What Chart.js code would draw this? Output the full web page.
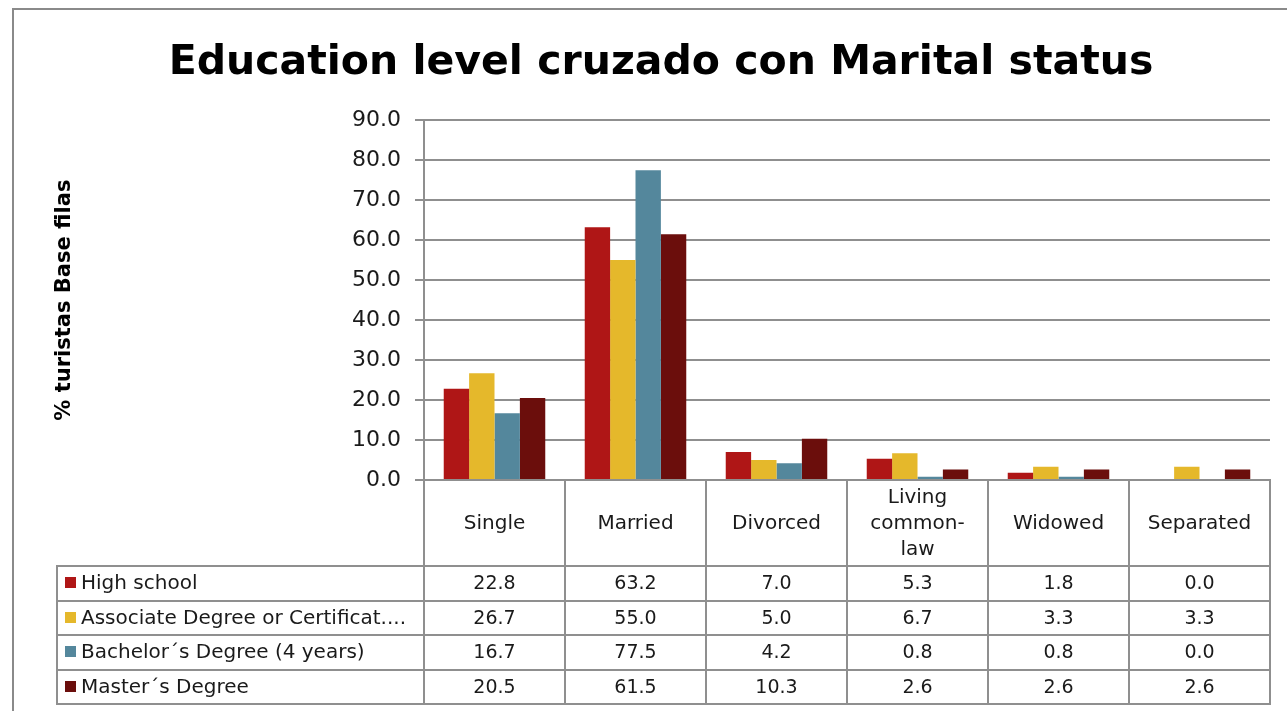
<!DOCTYPE html>
<html>
<head>
<meta charset="utf-8">
<script src="https://cdn.jsdelivr.net/npm/chart.js@4/dist/chart.umd.min.js"></script>
<style>
  html, body { margin: 0; padding: 0; background: #fff; }
  #wrap { position: relative; width: 1287px; height: 711px; }
</style>
</head>
<body>
<div id="wrap"><canvas id="c" width="1287" height="711"></canvas></div>
<script>
// ---- data ----
const categories = ["Single", "Married", "Divorced", ["Living", "common-", "law"], "Widowed", "Separated"];
const seriesNames = ["High school", "Associate Degree or Certificat....", "Bachelor\u00b4s Degree (4 years)", "Master\u00b4s Degree"];
const highSchool = [22.8, 63.2, 7.0, 5.3, 1.8, 0.0];
const associate = [26.7, 55.0, 5.0, 6.7, 3.3, 3.3];
const bachelor = [16.7, 77.5, 4.2, 0.8, 0.8, 0.0];
const master = [20.5, 61.5, 10.3, 2.6, 2.6, 2.6];
const yTicks = [0, 10, 20, 30, 40, 50, 60, 70, 80, 90];
const seriesColors = ["#AF1616", "#E5B82B", "#54879C", "#6B0E0C"];
const titleText = "Education level cruzado con Marital status";
const yTitle = "% turistas Base filas";

const FONT = "'DejaVu Sans', 'Liberation Sans', sans-serif";
const GRID = "#8f8f8f";
const TEXT = "#1a1a1a";

const seriesValues = [highSchool, associate, bachelor, master];

const tablePlugin = {
  id: 'dataTable',
  beforeDraw(chart) {
    const ctx = chart.ctx;
    ctx.save();
    ctx.strokeStyle = "#8a8a8a";
    ctx.lineWidth = 2;
    ctx.strokeRect(13, 9, 1400, 800);
    ctx.restore();
  },
  afterDraw(chart) {
    const ctx = chart.ctx;
    const xs = chart.scales.x;
    const area = chart.chartArea;
    const n = categories.length;
    const catW = (xs.right - xs.left) / n;
    const headerTop = area.bottom;
    const headerBottom = 566;
    const rowH = 34.5;
    const tableLeft = 57;
    const tableRight = xs.right;
    const tableBottom = headerBottom + rowH * seriesNames.length;
    ctx.save();
    ctx.strokeStyle = GRID;
    ctx.lineWidth = 2;
    for (let i = 0; i <= n; i++) {
      const bx = Math.round(xs.getPixelForValue(i) - catW / 2);
      ctx.beginPath();
      ctx.moveTo(bx, headerTop);
      ctx.lineTo(bx, tableBottom + 1);
      ctx.stroke();
    }
    ctx.beginPath();
    ctx.moveTo(tableLeft, headerBottom);
    ctx.lineTo(tableLeft, tableBottom + 1);
    ctx.stroke();
    for (let r = 0; r <= seriesNames.length; r++) {
      const y = Math.round(headerBottom + r * rowH);
      ctx.beginPath();
      ctx.moveTo(tableLeft - 1, y);
      ctx.lineTo(tableRight + 1, y);
      ctx.stroke();
    }
    ctx.fillStyle = TEXT;
    ctx.textAlign = 'center';
    ctx.textBaseline = 'middle';
    ctx.font = "20px " + FONT;
    const midHeader = (headerTop + headerBottom) / 2;
    categories.forEach((lab, i) => {
      const cx = xs.getPixelForValue(i);
      const lines = Array.isArray(lab) ? lab : [lab];
      const lh = 26;
      lines.forEach((ln, k) => {
        ctx.fillText(ln, cx, midHeader + 1 + (k - (lines.length - 1) / 2) * lh);
      });
    });
    seriesNames.forEach((name, r) => {
      const cy = headerBottom + r * rowH + rowH / 2;
      ctx.fillStyle = seriesColors[r];
      ctx.fillRect(65, Math.round(cy - 6), 11, 11);
      ctx.fillStyle = TEXT;
      ctx.textAlign = 'left';
      ctx.font = "20px " + FONT;
      ctx.fillText(name, 81, cy + 1);
      ctx.textAlign = 'center';
      ctx.font = "19px " + FONT;
      seriesValues[r].forEach((v, i) => {
        ctx.fillText(v.toFixed(1), xs.getPixelForValue(i), cy + 1);
      });
    });
    ctx.restore();
  }
};

new Chart(document.getElementById('c'), {
  type: 'bar',
  data: {
    labels: categories,
    datasets: seriesNames.map((name, i) => ({
      label: name,
      data: seriesValues[i],
      backgroundColor: seriesColors[i],
      borderWidth: 0,
      categoryPercentage: 0.72,
      barPercentage: 1.0
    }))
  },
  options: {
    responsive: false,
    animation: false,
    devicePixelRatio: 1,
    layout: { padding: { left: 52, right: 17, top: 0, bottom: 0 } },
    plugins: {
      legend: { display: false },
      tooltip: { enabled: false },
      title: {
        display: true,
        text: titleText,
        color: "#000",
        font: { family: FONT, size: 41, weight: 'bold' },
        padding: { top: 39, bottom: 32 }
      }
    },
    scales: {
      x: {
        ticks: { display: false },
        grid: { display: false },
        border: { display: true, color: GRID, width: 2 },
        afterFit(scale) { scale.height = 711 - 480; }
      },
      y: {
        min: 0,
        max: 90,
        afterBuildTicks(scale) { scale.ticks = yTicks.map(v => ({ value: v })); },
        ticks: {
          color: TEXT,
          font: { family: FONT, size: 22 },
          padding: 14,
          callback: v => Number(v).toFixed(1)
        },
        grid: { color: GRID, lineWidth: 2, tickLength: 9, drawTicks: true },
        border: { display: true, color: GRID, width: 2 },
        title: {
          display: true,
          text: yTitle,
          color: "#000",
          font: { family: FONT, size: 21, weight: 'bold' },
          padding: 0
        },
        afterFit(scale) { scale.width = 424 - 52; }
      }
    }
  },
  plugins: [tablePlugin]
});
</script>
</body>
</html>
